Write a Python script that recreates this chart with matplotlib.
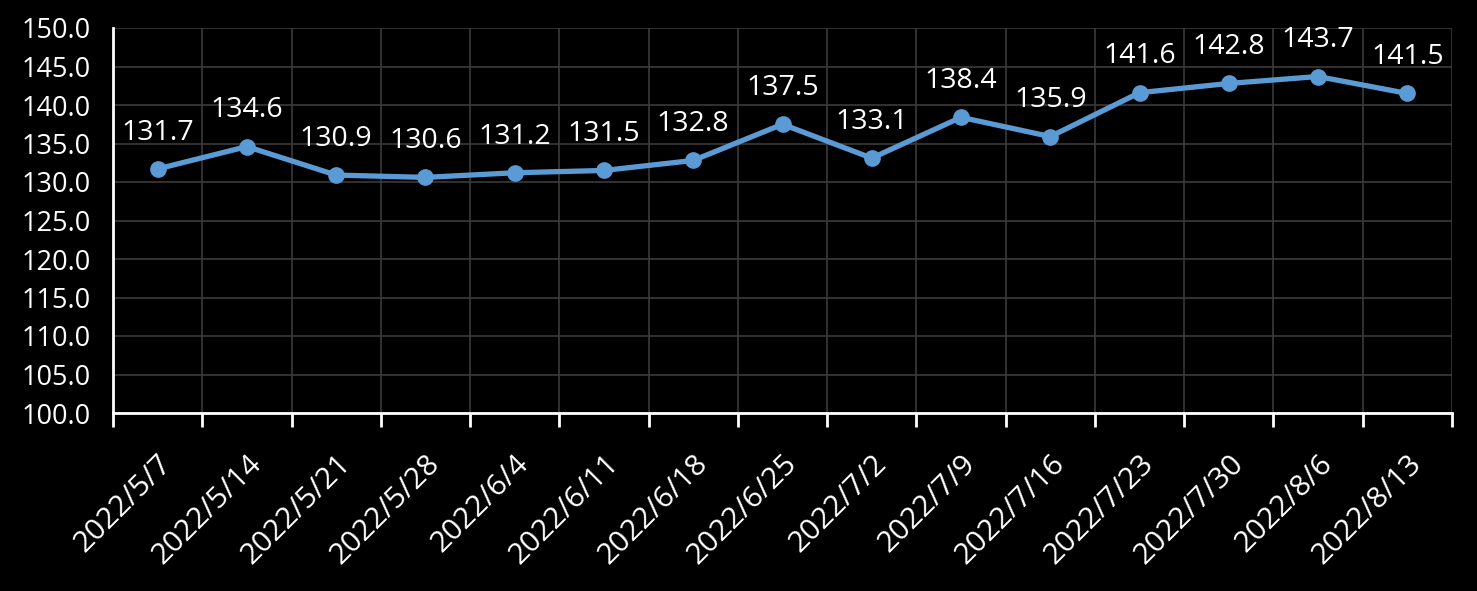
import matplotlib
matplotlib.use("Agg")
import matplotlib.pyplot as plt
import numpy as np

categories = ["2022/5/7", "2022/5/14", "2022/5/21", "2022/5/28", "2022/6/4",
              "2022/6/11", "2022/6/18", "2022/6/25", "2022/7/2", "2022/7/9",
              "2022/7/16", "2022/7/23", "2022/7/30", "2022/8/6", "2022/8/13"]
values = [131.7, 134.6, 130.9, 130.6, 131.2, 131.5, 132.8, 137.5, 133.1,
          138.4, 135.9, 141.6, 142.8, 143.7, 141.5]
yticks = [100, 105, 110, 115, 120, 125, 130, 135, 140, 145, 150]

plt.rcParams['font.family'] = ['Open Sans', 'DejaVu Sans']

fig = plt.figure(figsize=(14.77, 5.91), dpi=100, facecolor='black')
ax = fig.add_axes([113/1477, (591-413)/591, (1452-113)/1477, (413-28)/591])
ax.set_facecolor('black')

x = np.arange(len(categories))
color = '#5B9BD5'
ax.plot(x, values, color=color, lw=3.8, marker='o', ms=11, zorder=3,
        solid_capstyle='round')
for xi, v in zip(x, values):
    ax.annotate(f"{v:.1f}", (xi, v), xytext=(0, 16), textcoords='offset points',
                ha='center', va='bottom', color='white', fontsize=20.5)

ax.set_xlim(-0.5, len(categories) - 0.5)
ax.set_ylim(100, 150)
ax.set_yticks(yticks)
ax.set_yticklabels([f"{t:.1f}" for t in yticks], color='white', fontsize=19.5)
ax.tick_params(axis='y', length=0, pad=16)

ax.set_xticks(x)
ax.set_xticklabels(categories, rotation=45, ha='right', rotation_mode='anchor',
                   color='white', fontsize=21.5)
ax.tick_params(axis='x', which='major', length=0, pad=26)
ax.set_xticks(np.arange(-0.5, len(categories)), minor=True)
ax.tick_params(axis='x', which='minor', length=10, width=2, color='white')

ax.grid(True, which='major', axis='y', color='#3a3a3a', lw=1.2)
ax.grid(True, which='minor', axis='x', color='#3a3a3a', lw=1.2)
ax.set_axisbelow(True)

for s in ['top', 'right']:
    ax.spines[s].set_visible(False)
for s in ['left', 'bottom']:
    ax.spines[s].set_color('white')
    ax.spines[s].set_linewidth(2)

fig.savefig('out.png', dpi=100, facecolor='black')
